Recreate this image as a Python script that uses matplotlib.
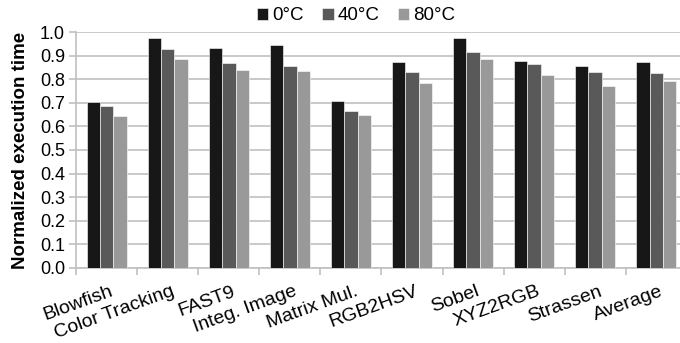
import matplotlib
matplotlib.use("Agg")
import matplotlib.pyplot as plt
import numpy as np

benchmarks = ["Blowfish", "Color Tracking", "FAST9", "Integ. Image", "Matrix Mul.",
              "RGB2HSV", "Sobel", "XYZ2RGB", "Strassen", "Average"]
temps = ["0°C", "40°C", "80°C"]
t0 = [0.705, 0.974, 0.932, 0.946, 0.709, 0.872, 0.976, 0.877, 0.857, 0.872]
t40 = [0.688, 0.930, 0.870, 0.855, 0.666, 0.830, 0.915, 0.865, 0.831, 0.827]
t80 = [0.646, 0.887, 0.840, 0.836, 0.650, 0.786, 0.887, 0.819, 0.772, 0.793]
yticks = [0.0, 0.1, 0.2, 0.3, 0.4, 0.5, 0.6, 0.7, 0.8, 0.9, 1.0]

plt.rcParams["font.family"] = ["Liberation Sans", "DejaVu Sans"]
colors = ["#171717", "#595959", "#999999"]
grid_c = "#c0c0c0"

fig = plt.figure(figsize=(6.8, 3.43), dpi=100)
ax = fig.add_axes([0.112, 0.2195, 0.898, 0.6865])

x = np.arange(len(benchmarks))
w = 0.22
for i, (vals, lab) in enumerate(zip([t0, t40, t80], temps)):
    ax.bar(x + (i - 1) * w, vals, width=w, color=colors[i], label=lab,
           edgecolor="white", linewidth=0.4, zorder=3)

ax.set_xlim(-0.5, len(benchmarks) - 0.5)
ax.set_ylim(0, 1.0)
ax.set_yticks(yticks)
ax.set_yticklabels([f"{v:.1f}" for v in yticks])
ax.yaxis.grid(True, color=grid_c, linewidth=1.2, zorder=0)
ax.set_axisbelow(True)

ax.set_xticks(x + 0.05)
ax.set_xticklabels(benchmarks, rotation=20, ha="right", rotation_mode="anchor")
ax.set_xticks(np.arange(len(benchmarks)) - 0.5, minor=True)
ax.tick_params(axis="x", which="major", length=0, pad=11, labelsize=14)
ax.tick_params(axis="x", which="minor", length=5, color=grid_c, width=1.2)
ax.tick_params(axis="y", length=5, color=grid_c, width=1.2, labelsize=13, pad=3)

for s in ["top", "right"]:
    ax.spines[s].set_visible(False)
for s in ["left", "bottom"]:
    ax.spines[s].set_color(grid_c)
    ax.spines[s].set_linewidth(1.2)

ax.set_ylabel("Normalized execution time", fontsize=13.5, fontweight="bold", labelpad=8)

fig.legend(loc="center", bbox_to_anchor=(356 / 680, 1 - 16 / 343), ncol=3,
           frameon=False, fontsize=13.5, handlelength=0.6, handleheight=0.6,
           handletextpad=0.2, columnspacing=1.0, borderpad=0)

fig.savefig("out.png", dpi=100)
